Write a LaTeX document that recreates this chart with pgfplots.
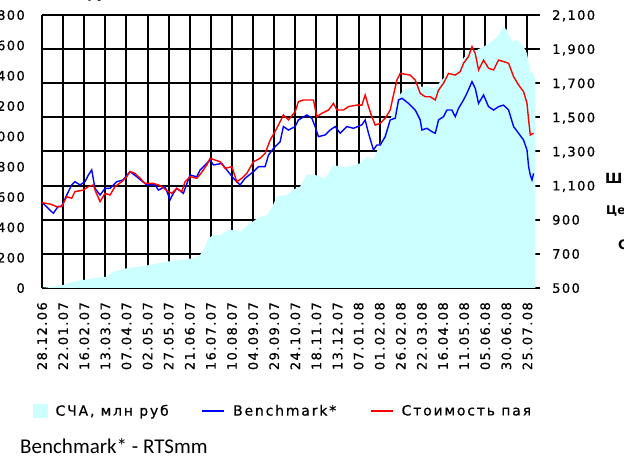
\documentclass[border=0pt]{standalone}
\usepackage{fontspec}
\setmainfont{DejaVu Sans}
\newfontfamily\tickfont{DejaVu Sans}[LetterSpace=11, FakeBold=0.8]
\newfontfamily\legfont{DejaVu Sans}[LetterSpace=13, FakeBold=0.6]
\newfontfamily\notefont{Carlito}
\usepackage{pgfplots}
\usepackage{pgfplotstable}
\pgfplotsset{compat=1.18}

\definecolor{scha}{RGB}{204,255,255}
\definecolor{bench}{RGB}{0,0,255}
\definecolor{pai}{RGB}{255,0,0}

\newcommand\tickfs{\tickfont\fontsize{13bp}{15bp}\selectfont}
\newcommand\legfs{\legfont\fontsize{14bp}{16bp}\selectfont}

% same plot box for all three axes (days since 28.12.06 on x)
\pgfplotsset{
  chartbox/.style={
    scale only axis, width=498bp, height=273bp,
    at={(42bp,168bp)}, anchor=south west,
    xmin=0, xmax=590,
    axis line style={draw=none}, major tick length=0pt,
    /pgf/number format/assume math mode=true,
    /pgf/number format/1000 sep={,},
  },
  shortline/.style={legend image code/.code={\draw[##1] (0bp,0bp) -- (22bp,0bp);}},
  squarebox/.style={legend image code/.code={\fill[scha] (0bp,-6.5bp) rectangle (14bp,6.5bp);}},
}

% NAV, mln rub (left scale)
\pgfplotstableread{
d v
0 0
13.4 9
25.2 20
37.1 42
49.0 53
60.8 64
76.7 75
84.5 108
100.4 130
116.2 141
128.0 152
147.8 174
163.6 185
179.4 196
187.3 218
193.2 272
197.1 328
203.1 349
211.0 349
222.9 385
234.7 371
246.6 426
258.4 470
266.4 481
272.3 530
278.2 602
290.1 613
297.9 650
305.8 668
313.8 750
323.6 745
335.5 723
345.3 811
353.3 800
363.1 800
376.9 822
384.9 866
392.7 844
400.7 954
412.5 1108
422.4 1261
428.3 1305
440.1 1327
456.0 1327
465.9 1316
471.8 1360
479.7 1404
491.6 1437
499.4 1514
507.4 1569
515.3 1569
523.1 1591
533.1 1624
540.9 1668
546.8 1723
550.8 1701
556.8 1624
562.7 1635
570.5 1591
574.6 1547
578.5 1426
582.4 1415
584.4 1371
}\schatab

% benchmark (right scale)
\pgfplotstableread{
d v
0 1002
13.4 938
19.0 977
23.4 980
29.3 1045
35.2 1104
39.1 1123
45.0 1104
51.0 1123
54.9 1162
58.9 1192
62.8 1084
68.8 1045
74.7 1084
80.6 1084
88.6 1123
96.0 1133
104.3 1182
112.3 1152
124.1 1104
134.0 1104
137.9 1074
145.8 1094
151.7 1016
155.6 1055
159.7 1084
167.5 1055
175.4 1162
183.4 1152
187.3 1192
199.1 1250
203.1 1221
213.0 1230
218.9 1192
226.8 1143
234.7 1104
240.6 1143
250.5 1182
256.4 1211
264.3 1211
268.3 1279
274.2 1318
282.1 1357
286.0 1446
292.0 1426
299.9 1446
303.8 1485
313.8 1514
319.7 1495
323.6 1446
327.5 1387
335.5 1397
341.4 1426
347.3 1446
353.3 1407
361.2 1446
369.0 1436
379.0 1456
382.9 1485
386.8 1407
392.7 1309
396.7 1338
400.7 1338
406.6 1387
412.5 1485
418.5 1495
422.4 1602
426.4 1612
434.2 1582
442.2 1543
448.1 1485
450.1 1426
456.0 1436
462.0 1416
465.9 1407
469.8 1485
475.7 1504
479.7 1543
485.6 1543
489.6 1504
493.5 1553
499.4 1602
503.4 1641
509.4 1709
513.3 1670
517.2 1582
523.1 1631
529.0 1563
535.0 1543
540.9 1563
546.8 1572
552.8 1543
558.7 1446
564.6 1407
570.5 1367
574.6 1309
576.5 1211
578.5 1162
580.5 1133
582.4 1172
}\benchtab

% unit value (right scale)
\pgfplotstableread{
d v
0 1000
9.5 992
17.4 977
23.4 977
29.3 1035
35.2 1026
39.1 1065
49.0 1074
54.9 1094
60.8 1104
62.8 1074
68.8 1006
74.7 1055
80.6 1045
86.5 1094
94.5 1123
100.4 1152
104.3 1182
110.2 1172
116.2 1143
122.1 1113
131.9 1113
137.9 1104
141.9 1094
149.7 1065
153.7 1055
159.7 1084
165.6 1065
169.5 1123
175.4 1152
183.4 1143
187.3 1165
195.2 1221
199.1 1260
211.0 1240
216.9 1201
224.9 1211
230.8 1123
236.7 1143
242.7 1172
250.5 1240
258.4 1260
264.3 1289
270.3 1367
278.2 1436
286.0 1514
292.0 1485
299.9 1533
303.8 1592
309.7 1602
321.6 1602
325.6 1504
331.6 1524
339.4 1543
345.3 1582
349.3 1543
357.2 1543
363.1 1563
373.0 1572
379.0 1572
382.9 1631
386.8 1563
390.8 1504
394.7 1455
400.7 1465
406.6 1495
412.5 1543
416.4 1631
420.5 1719
424.4 1758
436.2 1748
442.2 1719
448.1 1641
454.0 1621
459.9 1621
465.9 1602
469.8 1660
475.7 1700
481.6 1758
489.6 1748
495.5 1768
499.4 1817
505.3 1856
509.4 1914
513.3 1875
517.2 1778
523.1 1836
529.0 1788
535.0 1778
540.9 1836
546.8 1827
552.8 1817
558.7 1739
564.6 1690
570.5 1651
574.6 1582
576.5 1485
578.5 1397
582.4 1407
}\paitab

\begin{document}
\begin{tikzpicture}
\useasboundingbox (0,0) rectangle (624bp,456bp);
\clip (0,0) rectangle (624bp,456bp);

% grid, dates, right scale
\begin{axis}[chartbox,
  ymin=500, ymax=2100, ytick={500,700,...,2100},
  xtick={0,25,...,575},
  xticklabels={28.12.06,22.01.07,16.02.07,13.03.07,07.04.07,02.05.07,27.05.07,21.06.07,16.07.07,10.08.07,04.09.07,29.09.07,24.10.07,18.11.07,13.12.07,07.01.08,01.02.08,26.02.08,22.03.08,16.04.08,11.05.08,05.06.08,30.06.08,25.07.08},
  grid=major, grid style={black, line width=2bp},
  yticklabel pos=right,
  ticklabel style={font=\tickfs, inner sep=0pt, text depth=0pt},
  xticklabel style={rotate=90, anchor=east},
  yticklabel style={anchor=west},
  xticklabel shift=14bp, yticklabel shift=12bp,
]
\addplot[draw=none] coordinates {(0,500)};
\end{axis}

% NAV area, left scale
\begin{axis}[chartbox,
  ymin=0, ymax=1800, ytick={0,200,...,1800},
  xtick=\empty,
  yticklabel pos=left,
  yticklabel style={font=\tickfs, inner sep=0pt, text depth=0pt, anchor=east},
  yticklabel shift=17bp,
]
\addplot[fill=scha, draw=none] table {\schatab} \closedcycle;
\end{axis}

% lines + legend
\begin{axis}[chartbox,
  ymin=500, ymax=2100, xtick=\empty, ytick=\empty,
  legend columns=3, legend cell align=left,
  legend style={at={(-0.0181,-0.4505)}, anchor=west, draw=none, fill=none,
    inner sep=0pt, font=\legfs, nodes={inner sep=0pt},
    /tikz/every odd column/.append style={column sep=8bp},
    /tikz/column 2/.style={column sep=33bp},
    /tikz/column 4/.style={column sep=34bp}},
]
\addlegendimage{squarebox}
\addlegendentry{СЧА, млн руб}
\addplot[bench, line width=1.4bp, shortline] table {\benchtab};
\addlegendentry{Benchmark*}
\addplot[pai, line width=1.4bp, shortline] table {\paitab};
\addlegendentry{Стоимость пая}
\end{axis}

% cut-off texts at the borders of the crop
\node[anchor=base west, inner sep=0pt, font=\bfseries\fontsize{13bp}{15bp}\selectfont] at (14bp,457bp) {СЧА, млн руб};
\node[anchor=west, inner sep=0pt, font=\bfseries\fontsize{14bp}{16bp}\selectfont] at (605bp,278bp) {Ш};
\node[anchor=west, inner sep=0pt, font=\bfseries\fontsize{12bp}{14bp}\selectfont] at (606bp,245bp) {Це};
\node[anchor=west, inner sep=0pt, font=\bfseries\fontsize{13bp}{15bp}\selectfont] at (618bp,211bp) {С};
\node[anchor=base west, inner sep=0pt, font=\notefont\fontsize{21bp}{25bp}\selectfont] at (20bp,3bp) {Benchmark* - RTSmm};
\end{tikzpicture}
\end{document}
